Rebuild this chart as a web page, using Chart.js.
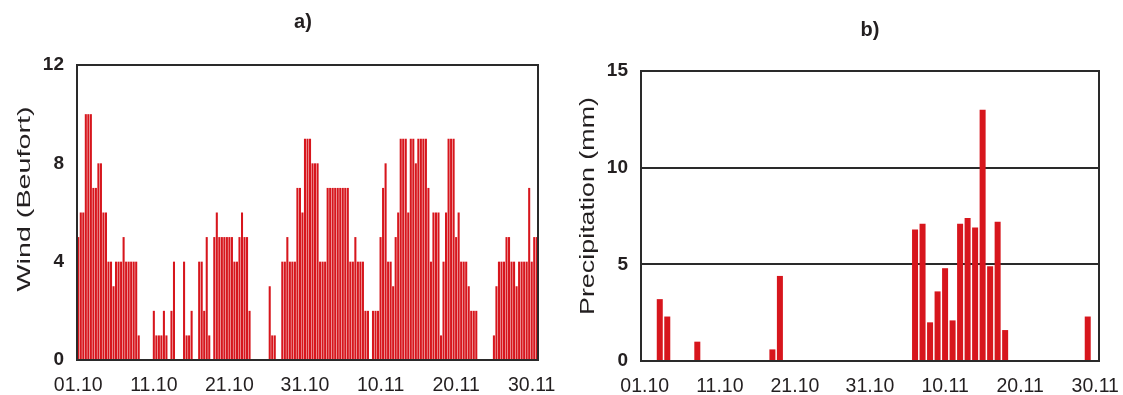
<!DOCTYPE html>
<html>
<head>
<meta charset="utf-8">
<script src="https://cdn.jsdelivr.net/npm/chart.js@4.4.1/dist/chart.umd.min.js"></script>
<style>
  body { margin: 0; background: #ffffff; }
  #wrap { position: relative; width: 1123px; height: 395px; overflow: hidden; }
  #chartA { position: absolute; left: 0; top: 0; }
  #chartB { position: absolute; left: 560px; top: 0; }
</style>
</head>
<body>
<div id="wrap">
  <canvas id="chartA" width="560" height="395"></canvas>
  <canvas id="chartB" width="563" height="395"></canvas>
</div>
<script>
// tick labels shown under both panels (every 10 days)
const tickLabels = ["01.10", "11.10", "21.10", "31.10", "10.11", "20.11", "30.11"];

// wind force, three observations per day, 01.10 - 30.11
const windValues = [
  5, 6, 6,   10, 10, 10,  7, 7, 8,   8, 6, 6,   4, 4, 3,
  4, 4, 4,   5, 4, 4,     4, 4, 4,   1, 0, 0,   0, 0, 0,
  2, 1, 1,   1, 2, 1,     0, 2, 4,   0, 0, 0,   4, 1, 1,
  2, 0, 0,   4, 4, 2,     5, 1, 0,   5, 6, 5,   5, 5, 5,
  5, 5, 4,   4, 5, 6,     5, 5, 2,   0, 0, 0,   0, 0, 0,
  0, 3, 1,   1, 0, 0,     4, 4, 5,   4, 4, 4,   7, 7, 6,
  9, 9, 9,   8, 8, 8,     4, 4, 4,   7, 7, 7,   7, 7, 7,
  7, 7, 7,   4, 4, 5,     4, 4, 4,   2, 2, 0,   2, 2, 2,
  5, 7, 8,   4, 4, 3,     5, 6, 9,   9, 9, 6,   9, 9, 8,
  9, 9, 9,   9, 7, 4,     6, 6, 6,   1, 4, 6,   9, 9, 9,
  5, 6, 4,   4, 4, 3,     2, 2, 2,   0, 0, 0,   0, 0, 0,
  1, 3, 4,   4, 4, 5,     5, 4, 4,   3, 4, 4,   4, 4, 7,
  4, 5, 5
];

// daily precipitation (mm), 01.10 - 30.11
const precipValues = [
  0, 0, 3.2, 2.3, 0, 0, 0, 1.0, 0, 0,
  0, 0, 0, 0, 0, 0, 0, 0.6, 4.4, 0,
  0, 0, 0, 0, 0, 0, 0, 0, 0, 0,
  0, 0, 0, 0, 0, 0, 6.8, 7.1, 2.0, 3.6,
  4.8, 2.1, 7.1, 7.4, 6.9, 13.0, 4.9, 7.2, 1.6, 0,
  0, 0, 0, 0, 0, 0, 0, 0, 0, 2.3, 0
];

const windTicks = [0, 4, 8, 12];
const precipTicks = [0, 5, 10, 15];

// categories: one per day, and three per day for wind
function pad(n) { return (n < 10 ? "0" : "") + n; }
const days = [];
for (let d = 0; d < precipValues.length; d++) {
  const dt = new Date(2001, 9, 1 + d);
  days.push(pad(dt.getDate()) + "." + pad(dt.getMonth() + 1));
}
const windSlots = [];
days.forEach(d => { ["06", "12", "18"].forEach(h => windSlots.push(d + " " + h)); });

Chart.defaults.font.family = "'Liberation Sans', Arial, Helvetica, sans-serif";
Chart.defaults.color = "#231f20";

const ink = "#231f20";
const red = "#d7161d";

const framePlugin = {
  id: "frame",
  afterDatasetsDraw(chart, args, o) {
    const ctx = chart.ctx;
    const a = chart.chartArea;
    ctx.save();
    ctx.strokeStyle = "#2a2a2a";
    ctx.lineWidth = 2;
    ctx.strokeRect(a.left, a.top, a.right - a.left, a.bottom - a.top);

    ctx.fillStyle = ink;
    ctx.textAlign = "center";
    ctx.textBaseline = "middle";
    ctx.font = "bold 20px 'Liberation Sans', Arial, sans-serif";
    ctx.fillText(o.letter, o.letterX, o.letterY);

    ctx.font = o.titleSize + "px 'Liberation Sans', Arial, sans-serif";
    const w = ctx.measureText(o.title).width;
    ctx.translate(o.titleX, o.titleY);
    ctx.rotate(-Math.PI / 2);
    ctx.scale(o.titleLength / w, 1);
    ctx.fillText(o.title, 0, 0);
    ctx.restore();
  }
};

// keep the plot box where it is, whatever the end labels overhang
function fixX(h) {
  return function (s) {
    s.height = h;
    s.paddingLeft = 0;
    s.paddingRight = 0;
  };
}

new Chart(document.getElementById("chartA"), {
  type: "bar",
  data: {
    labels: windSlots,
    datasets: [{
      data: windValues,
      backgroundColor: red,
      borderWidth: 0,
      barPercentage: 0.82,
      categoryPercentage: 1
    }]
  },
  plugins: [framePlugin],
  options: {
    responsive: false,
    animation: false,
    layout: { padding: { left: 0, right: 22, top: 65, bottom: 0 } },
    plugins: {
      legend: { display: false },
      tooltip: { enabled: false },
      frame: { letter: "a)", letterX: 303, letterY: 22, title: "Wind (Beufort)", titleSize: 19, titleX: 25, titleY: 199, titleLength: 185 }
    },
    scales: {
      x: {
        grid: { display: false, drawTicks: false },
        border: { display: false },
        ticks: {
          autoSkip: false, maxRotation: 0, padding: 14,
          font: { size: 19.5 },
          callback: (v, i) => (i % 30 === 0 ? tickLabels[i / 30] : "")
        },
        afterFit: fixX(35)
      },
      y: {
        min: windTicks[0],
        max: windTicks[windTicks.length - 1],
        grid: { display: false, drawTicks: false },
        border: { display: false },
        ticks: { stepSize: 4, padding: 13, font: { size: 19, weight: "bold" } },
        afterFit(s) { s.width = 77; }
      }
    }
  }
});

new Chart(document.getElementById("chartB"), {
  type: "bar",
  data: {
    labels: days,
    datasets: [{
      data: precipValues,
      backgroundColor: red,
      borderWidth: 0,
      barPercentage: 0.8,
      categoryPercentage: 1
    }]
  },
  plugins: [framePlugin],
  options: {
    responsive: false,
    animation: false,
    layout: { padding: { left: 0, right: 24, top: 71, bottom: 0 } },
    plugins: {
      legend: { display: false },
      tooltip: { enabled: false },
      frame: { letter: "b)", letterX: 310, letterY: 30, title: "Precipitation (mm)", titleSize: 21, titleX: 28, titleY: 206, titleLength: 218 }
    },
    scales: {
      x: {
        grid: { display: false, drawTicks: false },
        border: { display: false },
        ticks: {
          autoSkip: false, maxRotation: 0, padding: 14,
          font: { size: 19.5 },
          callback: (v, i) => (i % 10 === 0 ? tickLabels[i / 10] : "")
        },
        afterFit: fixX(34)
      },
      y: {
        min: precipTicks[0],
        max: precipTicks[precipTicks.length - 1],
        grid: {
          drawTicks: false,
          lineWidth: 2,
          color: c => (c.tick && (c.tick.value === 5 || c.tick.value === 10) ? "#2a2a2a" : "rgba(0,0,0,0)")
        },
        border: { display: false },
        ticks: { stepSize: 5, padding: 13, font: { size: 19, weight: "bold" } },
        afterFit(s) { s.width = 81; }
      }
    }
  }
});
</script>
</body>
</html>
